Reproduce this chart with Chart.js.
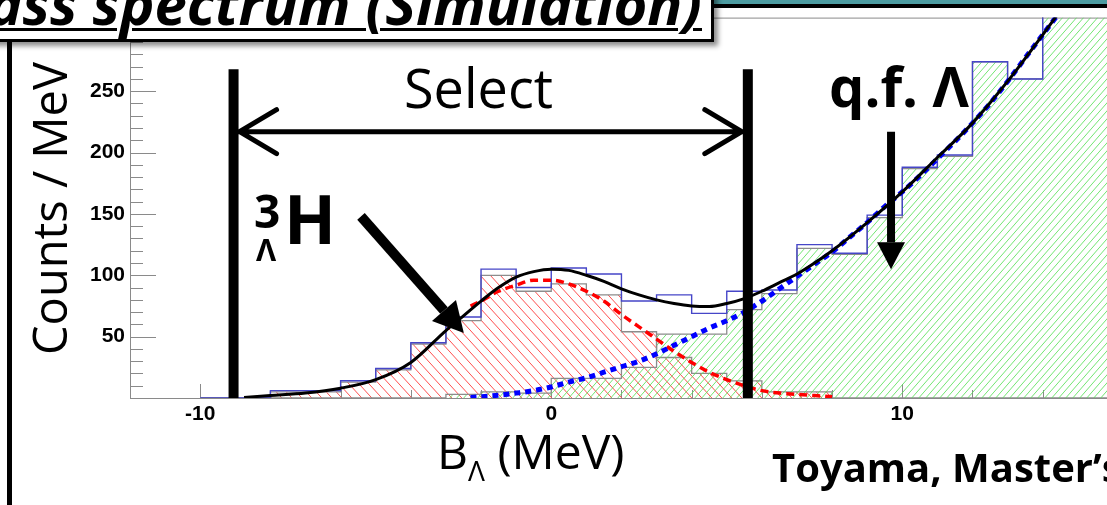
<!DOCTYPE html>
<html>
<head>
<meta charset="utf-8">
<script src="https://cdn.jsdelivr.net/npm/chart.js@4.4.1/dist/chart.umd.min.js"></script>
<style>
html,body{margin:0;padding:0;width:1107px;height:505px;overflow:hidden;background:#fff;}
#wrap{position:absolute;left:0;top:0;width:1200px;height:505px;}
.t{position:absolute;white-space:nowrap;line-height:1;font-family:"Open Sans",sans-serif;color:#000;z-index:3;}
#titlebox{position:absolute;left:-20px;top:-20px;width:734px;height:62px;box-sizing:border-box;border:3px solid #000;background:#fff;box-shadow:4px 4px 5px rgba(0,0,0,0.45);z-index:2;}
#title{right:405px;top:-26px;font-size:58px;font-weight:700;font-style:italic;text-decoration:underline;text-decoration-thickness:3px;text-underline-offset:3px;}
#topbar{position:absolute;left:714px;top:0;width:400px;height:8px;background:linear-gradient(to bottom,#4d9ca1 0 4px,#000 4px 8px);z-index:1;}
#leftrule{position:absolute;left:7px;top:42px;width:5px;height:470px;background:#000;z-index:1;}
#ylab{left:26px;top:355px;font-size:47px;transform:rotate(-90deg);transform-origin:0 0;}
#xlab{left:437px;top:427px;font-size:48px;}
#xlab span{font-size:28px;position:relative;top:12px;}
#select{left:404px;top:60px;font-size:54px;}
#qf{left:829px;top:57px;font-size:56px;font-weight:700;}
#credit{left:772px;top:447px;font-size:40px;font-weight:700;}
#h3{left:254px;top:187px;font-size:46px;font-weight:700;}
#hL{left:256px;top:234px;font-size:31px;font-weight:700;}
#hH{left:284px;top:184px;font-size:68px;font-weight:700;}
</style>
</head>
<body>
<div id="wrap"><canvas id="spec" width="1200" height="505"></canvas></div>
<div id="topbar"></div>
<div id="titlebox"></div>
<div class="t" id="title">Mass spectrum (Simulation)</div>
<div id="leftrule"></div>
<div class="t" id="ylab">Counts / MeV</div>
<div class="t" id="xlab">B<span>Λ</span> (MeV)</div>
<div class="t" id="select">Select</div>
<div class="t" id="h3">3</div>
<div class="t" id="hL">Λ</div>
<div class="t" id="hH">H</div>
<div class="t" id="qf">q.f. Λ</div>
<div class="t" id="credit">Toyama, Master’s</div>
<script>
// histogram bins (low edges, 1 MeV wide)
const binLow = [-10,-9,-8,-7,-6,-5,-4,-3,-2,-1,0,1,2,3,4,5,6,7,8,9,10,11,12,13,14,15];
const binWidth = 1;
const totalCounts = [0,0,6,6,14,24,45,66,105,90,106,101,79,84,69,87,88,125,118,149,188,198,274,260,330,360];
const hypCounts   = [0,0,5,5,13,23,44,63,100,87,93,84,54,33,20,14,5,5,0,0,0,0,0,0,0,0];
const qfCounts    = [0,0,0,0,0,0,0,3,5,4,16,16,25,52,52,72,85,122,117,147,187,197,274,260,330,360];

// fitted curves
const hypFitX = [-2.3,-2,-1.5,-1,-0.5,0,0.5,1,1.5,2,2.5,3,3.5,4,4.5,5,5.5,6,6.5,7,7.5,8];
const hypFitY = [75,79,87,92,96,96,93,87,79,68,58,48,38,29,21,15,10,6,4,3,2,1];
const qfFitX = [-2.3,-2,-1.5,-1,-0.5,0,0.5,1,1.5,2,2.5,3,3.5,4,4.5,5,5.5,6,6.5,7,7.5,8,8.5,9,9.5,10,10.5,11,11.5,12,12.5,13,13.5,14,14.5,15];
const qfFitY = [0.5,1,2.3,4,6,9,13,16.5,21,25.5,30,36,43,50,57,63,70,79,89,99,109,119,131,143,156,168,181,195,209,224,240,258,277,296,315,335];
const totFitX = [-8.75,-8,-7,-6,-5,-4,-3,-2.5,-2,-1.5,-1,-0.5,0,0.5,1,1.5,2,2.5,3,3.5,4,4.5,5,5.5,6,6.5,7,7.5,8,9,10,11,12,13,14,15];
const totFitY = [0.5,2,4,8,15,29,55,67,79,90,98.5,103,105,104,100,95,89,84,80,77,75,74.5,77,81,87,94,101,110,120,143,168,196,224,258,296,335];

// axes
const xMin = -12, xMax = 17, xStep = 10;
const yMin = 0, yMax = 310, yStep = 50;

// annotation anchors (data units)
const selectLow = -9.05, selectHigh = 5.6, selectTop = 268, selectArrowY = 217;
const hypArrow = {x0: -5.42, y0: 148, x1: -2.49, y1: 53};
const qfArrow = {x0: 9.68, y0: 217, x1: 9.68, y1: 105};

function histPoints(counts){
  const pts = [{x: binLow[0], y: 0}];
  binLow.forEach((lo, i) => pts.push({x: lo, y: counts[i]}));
  pts.push({x: binLow[binLow.length-1] + binWidth, y: 0});
  return pts;
}
function curve(xs, ys){ return xs.map((x, i) => ({x, y: ys[i]})); }

function hatch(color, w, h, dir){
  const c = document.createElement('canvas');
  c.width = w; c.height = h;
  const g = c.getContext('2d');
  g.strokeStyle = color; g.lineWidth = 1;
  g.beginPath();
  for (let k = -1; k <= 1; k++){
    if (dir > 0){ g.moveTo(k*w, h); g.lineTo(k*w + w, 0); }
    else { g.moveTo(k*w, 0); g.lineTo(k*w + w, h); }
  }
  g.stroke();
  return g.createPattern(c, 'repeat');
}
const redHatch = hatch('rgba(255,70,70,0.95)', 10, 11, -1);
const greenHatch = hatch('rgba(90,225,90,0.85)', 7, 8, 1);

function arrow(ctx, x0, y0, x1, y1, w, hl, hw){
  const a = Math.atan2(y1-y0, x1-x0);
  const bx = x1 - hl*Math.cos(a), by = y1 - hl*Math.sin(a);
  ctx.lineWidth = w; ctx.lineCap = 'butt';
  ctx.beginPath(); ctx.moveTo(x0, y0); ctx.lineTo(bx, by); ctx.stroke();
  ctx.beginPath(); ctx.moveTo(x1, y1);
  ctx.lineTo(bx + hw*Math.sin(a), by - hw*Math.cos(a));
  ctx.lineTo(bx - hw*Math.sin(a), by + hw*Math.cos(a));
  ctx.closePath(); ctx.fill();
}

// ROOT-like frame with inward ticks
const frame = {
  id: 'frame',
  beforeDatasetsDraw(chart){
    const {ctx, chartArea: a, scales: {x, y}} = chart;
    ctx.save();
    ctx.strokeStyle = '#8a8a8a'; ctx.lineWidth = 1;
    ctx.strokeRect(a.left + 0.5, a.top + 0.5, a.right - a.left, a.bottom - a.top);
    ctx.beginPath();
    for (let v = 10; v <= yMax; v += 10){
      const py = Math.round(y.getPixelForValue(v)) + 0.5;
      ctx.moveTo(a.left, py); ctx.lineTo(a.left + (v % 50 === 0 ? 26 : 13), py);
    }
    for (let v = xMin; v <= xMax; v += 2){
      const px = Math.round(x.getPixelForValue(v)) + 0.5;
      ctx.moveTo(px, a.bottom); ctx.lineTo(px, a.bottom - (v % 10 === 0 ? 14 : 8));
    }
    ctx.stroke();
    ctx.restore();
  },
  afterDatasetsDraw(chart){
    const {ctx, scales: {x, y}} = chart;
    const X = v => x.getPixelForValue(v), Y = v => y.getPixelForValue(v);
    ctx.save();
    ctx.strokeStyle = '#000'; ctx.fillStyle = '#000';
    // selection window
    const xl = X(selectLow), xr = X(selectHigh), yt = Y(selectTop), yb = Y(0), ya = Y(selectArrowY);
    ctx.lineWidth = 10;
    ctx.beginPath();
    ctx.moveTo(xl, yt); ctx.lineTo(xl, yb);
    ctx.moveTo(xr, yt); ctx.lineTo(xr, yb);
    ctx.stroke();
    ctx.lineWidth = 5; ctx.lineCap = 'round'; ctx.lineJoin = 'round';
    ctx.beginPath();
    ctx.moveTo(xl + 5, ya); ctx.lineTo(xr - 5, ya);
    ctx.moveTo(xl + 43, ya - 22); ctx.lineTo(xl + 6, ya); ctx.lineTo(xl + 43, ya + 22);
    ctx.moveTo(xr - 43, ya - 22); ctx.lineTo(xr - 6, ya); ctx.lineTo(xr - 43, ya + 22);
    ctx.stroke();
    arrow(ctx, X(hypArrow.x0), Y(hypArrow.y0), X(hypArrow.x1), Y(hypArrow.y1), 10, 30, 16);
    arrow(ctx, X(qfArrow.x0), Y(qfArrow.y0), X(qfArrow.x1), Y(qfArrow.y1), 8, 27, 14);
    ctx.restore();
  }
};

const tickFont = {family: "'Liberation Sans', Arial, sans-serif", weight: 'bold', size: 21};

new Chart(document.getElementById('spec'), {
  type: 'line',
  data: {
    datasets: [
      {label: 'total fit', data: curve(totFitX, totFitY), borderColor: '#000', borderWidth: 3, order: 0,
       cubicInterpolationMode: 'monotone', pointRadius: 0, fill: false},
      {label: 'q.f. fit', data: curve(qfFitX, qfFitY), borderColor: '#0000ff', borderWidth: 5, borderDash: [6,5], order: 1,
       cubicInterpolationMode: 'monotone', pointRadius: 0, fill: false},
      {label: 'hypertriton fit', data: curve(hypFitX, hypFitY), borderColor: '#ff0000', borderWidth: 3.5, borderDash: [8,5], order: 2,
       cubicInterpolationMode: 'monotone', pointRadius: 0, fill: false},
      {label: 'total', data: histPoints(totalCounts), borderColor: '#4646c8', borderWidth: 1.4, stepped: true, order: 3,
       pointRadius: 0, fill: false},
      {label: 'q.f.', data: histPoints(qfCounts), borderColor: '#8c8c8c', borderWidth: 1.3, stepped: true, order: 4,
       pointRadius: 0, fill: 'origin', backgroundColor: greenHatch},
      {label: 'hypertriton', data: histPoints(hypCounts), borderColor: '#8c8c8c', borderWidth: 1.3, stepped: true, order: 5,
       pointRadius: 0, fill: 'origin', backgroundColor: redHatch}
    ]
  },
  options: {
    responsive: false,
    animation: false,
    devicePixelRatio: 1,
    layout: {padding: {top: 15, right: 52, left: 0, bottom: 0}},
    plugins: {legend: {display: false}, tooltip: {enabled: false}},
    scales: {
      x: {
        type: 'linear', min: xMin, max: xMax,
        afterFit: s => { s.height = 107; },
        grid: {display: false, drawTicks: false},
        border: {display: false},
        ticks: {stepSize: xStep, includeBounds: false, padding: 4, color: '#000', maxRotation: 0, font: tickFont}
      },
      y: {
        type: 'linear', min: yMin, max: yMax,
        afterFit: s => { s.width = 130; },
        grid: {display: false, drawTicks: false},
        border: {display: false},
        ticks: {stepSize: yStep, includeBounds: false, padding: 5, color: '#000',
                callback: v => v === 0 ? '' : v, font: tickFont}
      }
    }
  },
  plugins: [frame]
});
</script>
</body>
</html>
